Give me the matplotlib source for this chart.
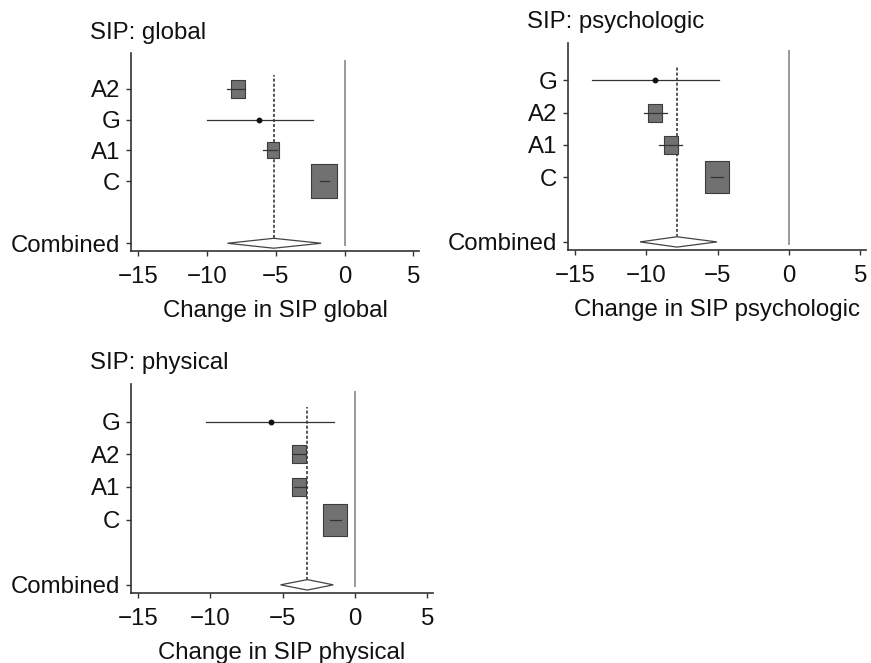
import matplotlib
matplotlib.use('Agg')
import numpy as np
import matplotlib.pyplot as plt
from matplotlib.path import Path
from matplotlib.patches import Polygon

plt.rcParams['font.family'] = ['Liberation Sans', 'DejaVu Sans']
plt.rcParams['axes.unicode_minus'] = True

# ---------------- data ----------------
global_labels = ['A2', 'G', 'A1', 'C']
global_est = [-7.75, -6.2, -5.2, -1.5]
global_lo = [-8.5, -10.0, -5.9, -1.8]
global_hi = [-7.2, -2.3, -4.9, -1.1]
global_wt = [19.4, 0.5, 15.3, 65.2]
global_comb = [-5.15, -8.5, -1.7]   # estimate, lower, upper

psych_labels = ['G', 'A2', 'A1', 'C']
psych_est = [-9.4, -9.4, -8.25, -5.05]
psych_lo = [-13.8, -10.2, -9.1, -5.5]
psych_hi = [-4.9, -8.55, -7.5, -4.6]
psych_wt = [0.5, 17.2, 21.4, 60.8]
psych_comb = [-7.86, -10.45, -5.05]

phys_labels = ['G', 'A2', 'A1', 'C']
phys_est = [-5.8, -3.9, -3.85, -1.35]
phys_lo = [-10.3, -4.3, -4.2, -1.7]
phys_hi = [-1.45, -3.4, -3.35, -1.0]
phys_wt = [0.5, 19.3, 19.3, 60.9]
phys_comb = [-3.3, -5.15, -1.5]

xticks = [-15, -10, -5, 0, 5]

# ---------------- style ----------------
FS = 17.3
DPI = 100
rect_marker = Path([(-0.39, -0.5), (0.39, -0.5), (0.39, 0.5), (-0.39, 0.5), (-0.39, -0.5)],
                   [Path.MOVETO, Path.LINETO, Path.LINETO, Path.LINETO, Path.CLOSEPOLY])

fig = plt.figure(figsize=(8.71, 6.63), dpi=DPI)


def forest(ax, labels, est, lo, hi, wt, comb, xlabel):
    n = len(labels)
    ypos = [n + 1 - i for i in range(n)]  # top item at n+1, bottom at 2
    # reference zero line
    ax.plot([0, 0], [-0.05, 5.9], color='#999999', lw=1.4, zorder=1)
    # combined estimate dashed line
    ax.plot([comb[0], comb[0]], [0, 5.45], color='#2a2a2a', lw=1.1,
            linestyle=(0, (2.0, 1.3)), zorder=2)
    for y, e, l, h, w in zip(ypos, est, lo, hi, wt):
        size_px = 4.1 * np.sqrt(w)
        if size_px < 5:
            ax.plot([e], [y], marker='o', markersize=3.2,
                    color='#111111', linestyle='none', zorder=5)
        else:
            ax.plot([e], [y], marker=rect_marker, markersize=size_px * 72 / DPI,
                    markerfacecolor='#717171', markeredgecolor='#3c3c3c',
                    markeredgewidth=0.8, linestyle='none', zorder=3)
        ax.plot([l, h], [y, y], color='#333333', lw=0.9, zorder=4)
    # diamond
    hgt = 0.16
    dia = Polygon([(comb[1], 0), (comb[0], hgt), (comb[2], 0), (comb[0], -hgt)],
                  closed=True, facecolor='white', edgecolor='#444444', lw=0.9, zorder=5)
    ax.add_patch(dia)

    ax.set_xlim(-15.5, 5.4)
    ax.set_ylim(-0.25, 6.15)
    ax.set_xticks(xticks)
    ax.set_xticklabels([f'{t}'.replace('-', '\u2212') for t in xticks])
    ax.set_yticks(ypos + [0])
    ax.set_yticklabels(labels + ['Combined'])
    for s in ['top', 'right']:
        ax.spines[s].set_visible(False)
    for s in ['left', 'bottom']:
        ax.spines[s].set_color('#333333')
        ax.spines[s].set_linewidth(1.2)
    ax.tick_params(axis='both', direction='out', length=3.6, width=1.0,
                   color='#333333', labelsize=FS, labelcolor='#111111')
    ax.tick_params(axis='y', pad=4)
    ax.tick_params(axis='x', pad=7)
    ax.set_xlabel(xlabel, fontsize=FS, color='#111111', labelpad=8.5)


W, H = 871.0, 663.0
# panel rectangles in pixels: left, top, width, height
ax1 = fig.add_axes([131 / W, 1 - 251 / H, 288 / W, 198 / H])
ax2 = fig.add_axes([568 / W, 1 - 250 / H, 298 / W, 207 / H])
ax3 = fig.add_axes([131 / W, 1 - 593 / H, 302 / W, 209 / H])

forest(ax1, global_labels, global_est, global_lo, global_hi, global_wt, global_comb,
       'Change in SIP global')
forest(ax2, psych_labels, psych_est, psych_lo, psych_hi, psych_wt, psych_comb,
       'Change in SIP psychologic')
forest(ax3, phys_labels, phys_est, phys_lo, phys_hi, phys_wt, phys_comb,
       'Change in SIP physical')

fig.text(90 / W, 1 - 33 / H, 'SIP: global', fontsize=FS, va='center', ha='left', color='#111111')
fig.text(527 / W, 1 - 22 / H, 'SIP: psychologic', fontsize=FS, va='center', ha='left', color='#111111')
fig.text(90 / W, 1 - 363 / H, 'SIP: physical', fontsize=FS, va='center', ha='left', color='#111111')

fig.savefig('out.png', dpi=DPI, facecolor='white')
